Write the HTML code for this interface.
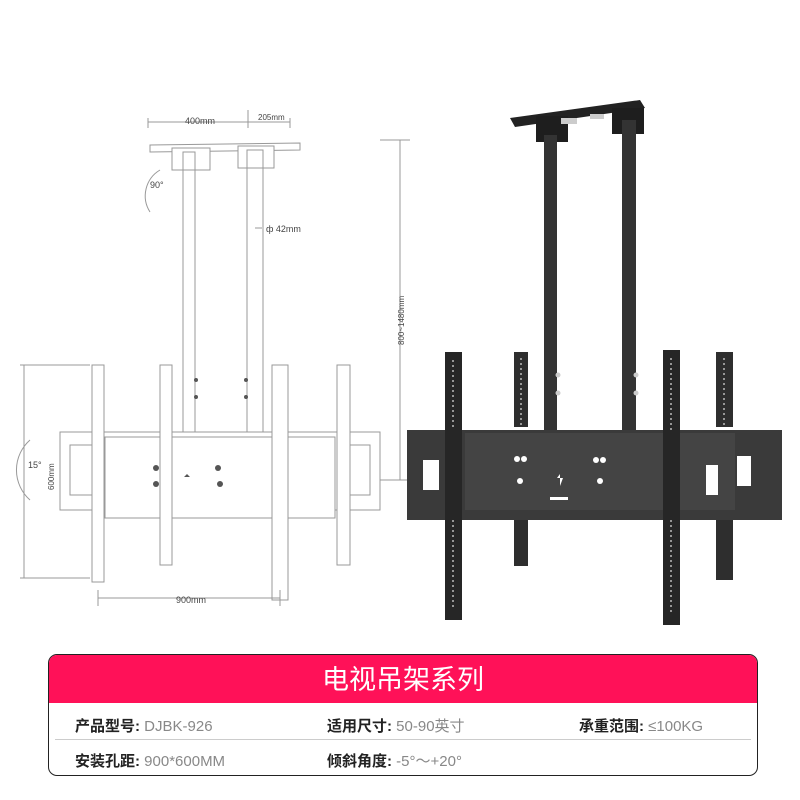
<!DOCTYPE html>
<html><head><meta charset="utf-8"><style>
body{margin:0;width:800px;height:800px;background:#fff;overflow:hidden;font-family:"Liberation Sans","Noto Sans CJK SC",sans-serif;position:relative}
.box{position:absolute;left:48px;top:654px;width:708px;height:120px;border:1.5px solid #222;border-radius:9px;overflow:hidden}
.hd{height:48px;background:#ff1158;color:#fff;font-size:27px;text-align:center;line-height:50px}
.r{position:absolute;font-size:15px;color:#222;font-weight:bold}
.r span{font-weight:normal;color:#888}
.ln{position:absolute;left:6px;right:6px;top:84px;border-top:1px solid #ccc}
</style></head><body>
<svg width="800" height="650" style="position:absolute;left:0;top:0" font-family="Liberation Sans" font-size="9" fill="#444">
<g stroke="#999" stroke-width="1" fill="none">
<path d="M148 128V118M248 128V110M290 128V118M148 122H290"/>
<path d="M150 145L300 143L300 150L150 152Z" fill="#fff"/>
<rect x="172" y="148" width="38" height="22" fill="#fff"/><rect x="238" y="146" width="36" height="22" fill="#fff"/>
<rect x="183" y="152" width="12" height="288"/><rect x="247" y="150" width="16" height="290"/>
<rect x="60" y="432" width="320" height="78" fill="#fff"/>
<rect x="105" y="437" width="230" height="81" fill="#fff"/>
<rect x="70" y="445" width="30" height="50"/><rect x="340" y="445" width="30" height="50"/>
<rect x="92" y="365" width="12" height="217" fill="#fff"/><rect x="160" y="365" width="12" height="200" fill="#fff"/>
<rect x="272" y="365" width="16" height="235" fill="#fff"/><rect x="337" y="365" width="13" height="200" fill="#fff"/>
<path d="M400 140V480M380 140H410M380 480H410"/>
<path d="M24 365V578M20 365H90M20 578H90"/>
<path d="M98 598H280M98 590V606M280 590V606"/>
<path d="M160 170A30 30 0 0 0 150 212"/><path d="M30 440A40 40 0 0 0 30 500"/>
<path d="M255 228H262"/>
</g>
<g fill="#555"><circle cx="156" cy="468" r="3"/><circle cx="218" cy="468" r="3"/><circle cx="156" cy="484" r="3"/><circle cx="220" cy="484" r="3"/><path d="M187 487V474l-3 3h6l-3-3"/>
<circle cx="196" cy="380" r="2"/><circle cx="196" cy="397" r="2"/><circle cx="246" cy="380" r="2"/><circle cx="246" cy="397" r="2"/></g>
<text x="185" y="124">400mm</text><text x="258" y="120" font-size="8">205mm</text>
<text x="150" y="188">90°</text><text x="266" y="232">ф 42mm</text>
<text x="28" y="468">15°</text>
<text transform="translate(404 345) rotate(-90)" font-size="8">800~1480mm</text>
<text transform="translate(54 490) rotate(-90)" font-size="8">600mm</text>
<text x="176" y="603">900mm</text>
<g fill="#2e2e2e">
<path d="M510 118L640 100L645 108L515 127Z" fill="#222"/>
<rect x="536" y="116" width="32" height="26" fill="#1e1e1e"/><rect x="612" y="108" width="32" height="26" fill="#1e1e1e"/>
<rect x="544" y="135" width="13" height="305" fill="#333"/><rect x="622" y="120" width="14" height="320" fill="#333"/>
<rect x="514" y="352" width="14" height="75"/><rect x="716" y="352" width="17" height="75"/>
<rect x="514" y="510" width="14" height="56"/><rect x="716" y="510" width="17" height="70"/>
<rect x="407" y="430" width="375" height="90" fill="#3a3a3a"/>
<rect x="465" y="433" width="270" height="77" fill="#444"/>
<rect x="445" y="352" width="17" height="268" fill="#262626"/><rect x="663" y="350" width="17" height="275" fill="#262626"/>
</g>
<g fill="#ccc"><circle cx="558" cy="375" r="2.5"/><circle cx="558" cy="393" r="2.5"/><circle cx="636" cy="375" r="2.5"/><circle cx="636" cy="393" r="2.5"/>
<rect x="561" y="118" width="16" height="6"/><rect x="590" y="114" width="14" height="5"/></g>
<g fill="#fff"><rect x="423" y="460" width="16" height="30"/><rect x="737" y="456" width="14" height="30"/><rect x="706" y="465" width="12" height="30"/>
<circle cx="517" cy="459" r="3"/><circle cx="524" cy="459" r="3"/><circle cx="520" cy="481" r="3"/><circle cx="596" cy="460" r="3"/><circle cx="603" cy="460" r="3"/><circle cx="600" cy="481" r="3"/>
<rect x="550" y="497" width="18" height="3"/><path d="M560 486V474l-3 4h6z"/></g>
<g stroke="#bbb" stroke-width="1.5" stroke-dasharray="2 3">
<path d="M453 360V430M453 520V610M671 358V430M671 520V615M521 358V425M724 358V425"/></g>
</svg>
<div class="box"><div class="hd">电视吊架系列</div>
<div class="r" style="left:26px;top:60px">产品型号: <span>DJBK-926</span></div>
<div class="r" style="left:278px;top:60px">适用尺寸: <span>50-90英寸</span></div>
<div class="r" style="left:530px;top:60px">承重范围: <span>≤100KG</span></div>
<div class="ln"></div>
<div class="r" style="left:26px;top:95px">安装孔距: <span>900*600MM</span></div>
<div class="r" style="left:278px;top:95px">倾斜角度: <span>-5°～+20°</span></div>
</div>
</body></html>
